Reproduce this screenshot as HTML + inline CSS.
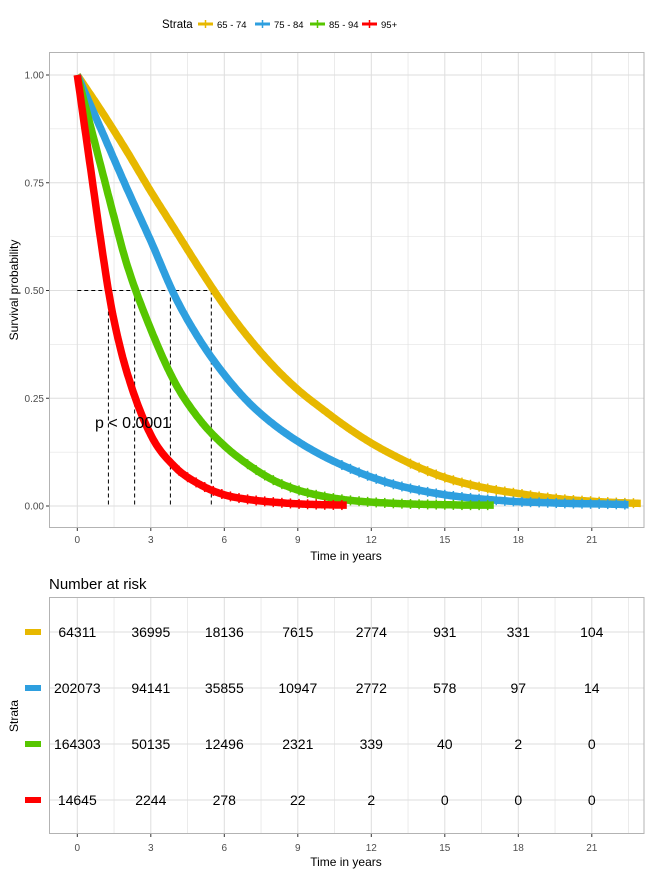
<!DOCTYPE html>
<html><head><meta charset="utf-8">
<style>
body{margin:0;background:#fff;font-family:"Liberation Sans",Arial,sans-serif;}
svg{display:block}
</style></head>
<body>
<svg id="chart" width="651" height="875" viewBox="0 0 651 875" xmlns="http://www.w3.org/2000/svg" font-family="Liberation Sans, Arial, sans-serif">
  <g id="legend">
    <text x="162" y="28" font-size="11.5" fill="#000">Strata</text>
  </g>
  <g id="top-grid"></g>
  <rect x="49.5" y="52.5" width="594.5" height="475" fill="none" stroke="#b3b3b3" stroke-width="1"/>
  <g id="medians"></g>
  <g id="curves"></g>
  <g id="top-axes"></g>
  <text x="95" y="428" font-size="16" fill="#000">p &lt; 0.0001</text>
  <text x="346" y="560" font-size="12" text-anchor="middle" fill="#000">Time in years</text>
  <text transform="translate(18,290) rotate(-90)" font-size="12" text-anchor="middle" fill="#000">Survival probability</text>

  <text x="49" y="589" font-size="15" fill="#000">Number at risk</text>
  <g id="table-grid"></g>
  <rect x="49.5" y="597.5" width="594.5" height="236" fill="none" stroke="#b3b3b3" stroke-width="1"/>
  <g id="table"></g>
  <text x="346" y="866" font-size="12" text-anchor="middle" fill="#000">Time in years</text>
  <text transform="translate(18,716) rotate(-90)" font-size="12" text-anchor="middle" fill="#000">Strata</text>
</svg>
<script>
const strata = ["65 - 74","75 - 84","85 - 94","95+"];
const colors = ["#E7B800","#2E9FDF","#57C600","#FF0000"];
const xTicks = [0,3,6,9,12,15,18,21];
const yTicks = [0,0.25,0.5,0.75,1];
const yTickLabels = ["0.00","0.25","0.50","0.75","1.00"];
const medians = [5.47,3.8,2.34,1.27];
const times65 = [0,1,2,3,4,5,6,7,8,9,10,11,12,13,14,15,16,17,18,19,20,21,22,23];
const surv65 = [1,0.915,0.825,0.73,0.64,0.55,0.465,0.39,0.325,0.27,0.225,0.183,0.146,0.115,0.088,0.066,0.05,0.038,0.029,0.021,0.015,0.011,0.008,0.006];
const times75 = [0,1,2,3,4,5,6,7,8,9,10,11,12,13,14,15,16,17,18,19,20,21,22,22.5];
const surv75 = [1,0.87,0.74,0.615,0.485,0.385,0.305,0.24,0.19,0.15,0.117,0.09,0.067,0.049,0.036,0.026,0.019,0.014,0.01,0.008,0.006,0.005,0.004,0.003];
const times85 = [0,0.5,1,1.5,2,3,4,5,6,7,8,9,10,11,12,13,14,15,16,17];
const surv85 = [1,0.89,0.78,0.67,0.565,0.41,0.285,0.2,0.14,0.095,0.06,0.037,0.023,0.014,0.009,0.006,0.004,0.003,0.002,0.002];
const times95 = [0,0.5,1,1.27,1.5,2,3,4,5,6,7,8,9,10,11];
const surv95 = [1,0.8,0.6,0.5,0.43,0.315,0.165,0.09,0.05,0.026,0.015,0.009,0.005,0.003,0.002];
const riskTable = [
  [64311,36995,18136,7615,2774,931,331,104],
  [202073,94141,35855,10947,2772,578,97,14],
  [164303,50135,12496,2321,339,40,2,0],
  [14645,2244,278,22,2,0,0,0]
];
const NS="http://www.w3.org/2000/svg";
const X = t => 77.3 + t*24.5;
const Y = s => 506 - s*431;
function mk(tag, attrs, parent){const e=document.createElementNS(NS,tag);for(const k in attrs)e.setAttribute(k,attrs[k]);parent.appendChild(e);return e;}

function monotone(xs, ys){
  const n=xs.length, d=[], m=new Array(n);
  for(let i=0;i<n-1;i++) d.push((ys[i+1]-ys[i])/(xs[i+1]-xs[i]));
  m[0]=d[0]; m[n-1]=d[n-2];
  for(let i=1;i<n-1;i++){ m[i]=(d[i-1]*d[i]<=0)?0:(d[i-1]+d[i])/2; }
  for(let i=0;i<n-1;i++){ if(d[i]===0){m[i]=0;m[i+1]=0;continue;}
    const a=m[i]/d[i], b=m[i+1]/d[i], s=a*a+b*b;
    if(s>9){const tt=3/Math.sqrt(s); m[i]=tt*a*d[i]; m[i+1]=tt*b*d[i];} }
  return function(x){
    let i=0; while(i<n-2 && x>xs[i+1]) i++;
    const h=xs[i+1]-xs[i], t=(x-xs[i])/h, t2=t*t, t3=t2*t;
    return (2*t3-3*t2+1)*ys[i]+(t3-2*t2+t)*h*m[i]+(-2*t3+3*t2)*ys[i+1]+(t3-t2)*h*m[i+1];
  };
}

const lg=document.getElementById('legend');
const legX=[198,255,310,362];
strata.forEach((s,i)=>{
  const g=mk('g',{},lg);
  
  
  mk('line',{x1:legX[i],y1:24,x2:legX[i]+15,y2:24,stroke:colors[i],'stroke-width':3},g);
  mk('line',{x1:legX[i]+7.5,y1:20,x2:legX[i]+7.5,y2:28,stroke:colors[i],'stroke-width':1.5},g);
  const t=mk('text',{x:legX[i]+19,y:28,'font-size':9.5,fill:'#000'},g);t.textContent=s;
});

const tg=document.getElementById('top-grid');
for(let t=-1.5;t<=23;t+=1.5){const x=X(t);if(x<50||x>644)continue;
  const l=mk('line',{x1:x,y1:53,x2:x,y2:527,stroke:'#dedede','stroke-width':Number.isInteger(t/3)?1:0.6},tg);
  }
for(let s=-0.125;s<=1.125;s+=0.125){const y=Y(s);if(y<53||y>527)continue;
  const l=mk('line',{x1:50,y1:y,x2:644,y2:y,stroke:'#dedede','stroke-width':Number.isInteger(s*4)?1:0.6},tg);
  }

const ax=document.getElementById('top-axes');
xTicks.forEach(t=>{mk('line',{x1:X(t),y1:528,x2:X(t),y2:531,stroke:'#333'},ax);
  const e=mk('text',{x:X(t),y:543,'font-size':10,'text-anchor':'middle',fill:'#4d4d4d'},ax);e.textContent=t;
  });
yTicks.forEach((s,i)=>{mk('line',{x1:46,y1:Y(s),x2:49,y2:Y(s),stroke:'#333'},ax);
  const e=mk('text',{x:44,y:Y(s)+3.5,'font-size':10,'text-anchor':'end',fill:'#4d4d4d'},ax);e.textContent=yTickLabels[i];
  });

const cv=document.getElementById('curves');
const series=[[times65,surv65],[times75,surv75],[times85,surv85],[times95,surv95]];
series.forEach(([ts,ss],i)=>{
  const f=monotone(ts,ss);
  const tEnd=ts[ts.length-1];
  const pts=[];
  for(let t=0;t<=tEnd+1e-9;t+=0.05){pts.push(X(t).toFixed(1)+','+Y(f(t)).toFixed(1));}
  const p=mk('polyline',{points:pts.join(' '),fill:'none',stroke:colors[i],'stroke-width':7.5,'stroke-linejoin':'round'},cv);
  
  
  for(let t=0.3;t<tEnd;t+=0.35){const s=f(t); if(s<0.1){
    mk('line',{x1:X(t),y1:Y(s)-5,x2:X(t),y2:Y(s)+5,stroke:colors[i],'stroke-width':1.5},cv);}}
});

const md=document.getElementById('medians');
const maxMed=Math.max(...medians);
const hl=mk('line',{x1:X(0),y1:Y(0.5),x2:X(maxMed),y2:Y(0.5),stroke:'#000','stroke-dasharray':'4,3','stroke-width':1},md);

medians.forEach(m=>{const l=mk('line',{x1:X(m),y1:Y(0.5),x2:X(m),y2:Y(0),stroke:'#000','stroke-dasharray':'4,3','stroke-width':1},md);
  });

const tgg=document.getElementById('table-grid');
const rowY=[632,688,744,800];
for(let t=-1.5;t<=23;t+=1.5){const x=X(t);if(x<50||x>644)continue;
  mk('line',{x1:x,y1:598,x2:x,y2:833,stroke:'#dedede','stroke-width':Number.isInteger(t/3)?1:0.6},tgg);}
rowY.forEach(y=>mk('line',{x1:50,y1:y,x2:644,y2:y,stroke:'#dedede','stroke-width':1},tgg));
const tb=document.getElementById('table');
riskTable.forEach((row,r)=>{
  const bar=mk('rect',{x:25,y:rowY[r]-3,width:16,height:6,fill:colors[r]},tb);
  
  row.forEach((v,c)=>{const e=mk('text',{x:X(xTicks[c]),y:rowY[r]+5,'font-size':14,'text-anchor':'middle',fill:'#000'},tb);e.textContent=v;
    });
});
xTicks.forEach(t=>{mk('line',{x1:X(t),y1:834,x2:X(t),y2:837,stroke:'#333'},tb);
  const e=mk('text',{x:X(t),y:851,'font-size':10,'text-anchor':'middle',fill:'#4d4d4d'},tb);e.textContent=t;
  });
</script>
</body></html>
